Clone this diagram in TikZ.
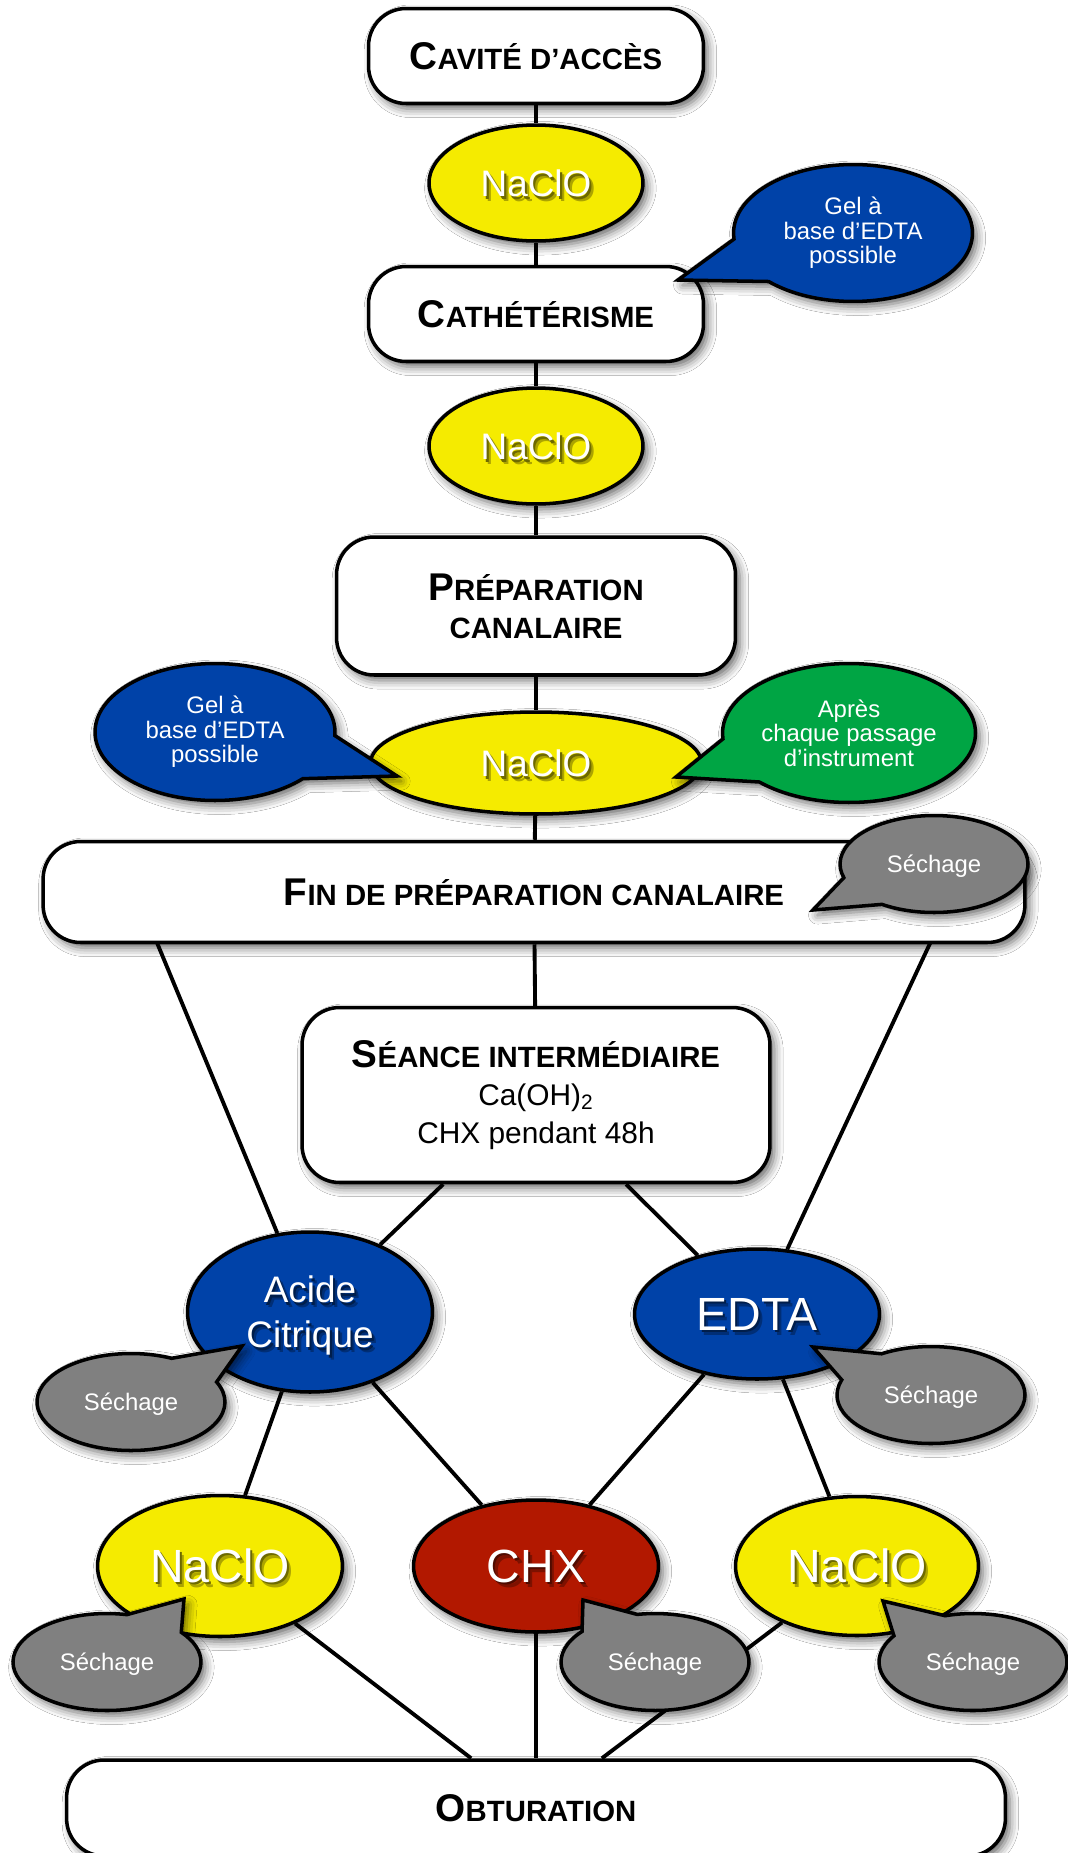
\documentclass[tikz,border=0pt]{standalone}
\usepackage{fontspec}
\setmainfont{Liberation Sans}
\usetikzlibrary{shapes.geometric,shapes.callouts,shadows.blur,backgrounds}
\definecolor{rinseyellow}{RGB}{245,235,0}
\definecolor{gelblue}{RGB}{0,66,168}
\definecolor{passgreen}{RGB}{0,165,68}
\definecolor{chxred}{RGB}{178,24,0}
\definecolor{drygray}{RGB}{128,128,128}

\newcommand\txtstack[1]{\begin{tabular}{@{}c@{}}#1\end{tabular}}
\newcommand\shadetext[2]{\leavevmode\raisebox{-0.12em}[\height][\depth]{%
  \rlap{\kern2.4pt\raisebox{-2.8pt}[0pt][0pt]{\color{#1!70!black}\txtstack{#2}}}%
  \rlap{\kern1.2pt\raisebox{-1.5pt}[0pt][0pt]{\color{#1!45!black}\txtstack{#2}}}%
  \txtstack{#2}}}
\newcommand\capsc[2]{{\fontsize{22}{22}\selectfont #1}#2}

\tikzset{
  softshadow/.style={blur shadow={shadow xshift=2.5pt,shadow yshift=-3pt,shadow blur radius=5pt,shadow opacity=60}},
  stagebox/.style={rectangle,rounded corners=0.75cm,draw=black,fill=white,line width=2pt,softshadow,
    font=\fontsize{16.7}{21.5}\selectfont\bfseries,align=center},
  rinse/.style={ellipse,draw=black,line width=2pt,softshadow,text=white,inner sep=2pt,
    font=\fontsize{21}{25.6}\selectfont},
  note/.style={ellipse callout,callout pointer arc=40,draw=black,line width=2pt,softshadow,text=white,
    align=center,inner sep=1pt,font=\fontsize{13.6}{14}\selectfont},
  link/.style={line width=2.2pt,draw=black}
}

\begin{document}
\begin{tikzpicture}[
  x=0.02cm,y=-0.02cm,
  bigtext/.style={font=\fontsize{26.5}{30}\selectfont},
  dry/.style={note,fill=drygray,minimum width=3.76cm,minimum height=1.94cm,text height=13pt,text depth=3pt}
]
  \useasboundingbox (0,0) rectangle (1068,1853);

  \node[stagebox,minimum width=6.7cm,minimum height=1.9cm] (cavite) at (536,56)
    {\capsc{C}{AVITÉ D’ACCÈS}};
  \node[rinse,fill=rinseyellow,minimum width=4.28cm,minimum height=2.32cm] (naclo1) at (536,183)
    {\shadetext{rinseyellow}{NaClO}};
  \node[stagebox,minimum width=6.7cm,minimum height=1.9cm] (cath) at (536,314)
    {\capsc{C}{ATHÉTÉRISME}};
  \node[rinse,fill=rinseyellow,minimum width=4.28cm,minimum height=2.32cm] (naclo2) at (536,446)
    {\shadetext{rinseyellow}{NaClO}};
  \node[stagebox,minimum width=7.98cm,minimum height=2.76cm] (prep) at (536,606)
    {\capsc{P}{RÉPARATION}\\CANALAIRE};
  \node[rinse,fill=rinseyellow,minimum width=6.62cm,minimum height=2.04cm] (naclo3) at (536,763)
    {\shadetext{rinseyellow}{NaClO}};
  \node[stagebox,minimum width=19.64cm,minimum height=2.02cm] (fin) at (534,892)
    {\capsc{F}{IN DE PRÉPARATION CANALAIRE}};
  \node[stagebox,minimum width=9.36cm,minimum height=3.5cm] (seance) at (536,1095)
    {\capsc{S}{ÉANCE INTERMÉDIAIRE}\\{\mdseries\fontsize{17}{21.5}\selectfont Ca(OH)\textsubscript{2}}\\
     {\mdseries\fontsize{17}{21.5}\selectfont CHX pendant 48h}};

  \node[rinse,fill=gelblue,minimum width=4.9cm,minimum height=3.2cm] (acide) at (310,1312)
    {\shadetext{gelblue}{Acide\\Citrique}};
  \node[rinse,bigtext,fill=gelblue,minimum width=4.9cm,minimum height=2.6cm] (edta) at (757,1314)
    {\shadetext{gelblue}{EDTA}};
  \node[rinse,bigtext,fill=rinseyellow,minimum width=4.9cm,minimum height=2.82cm] (nacloL) at (220,1566)
    {\shadetext{rinseyellow}{NaClO}};
  \node[rinse,bigtext,fill=chxred,minimum width=4.9cm,minimum height=2.64cm] (chx) at (536,1566)
    {\shadetext{chxred}{CHX}};
  \node[rinse,bigtext,fill=rinseyellow,minimum width=4.86cm,minimum height=2.78cm] (nacloR) at (857,1566)
    {\shadetext{rinseyellow}{NaClO}};
  \node[stagebox,minimum width=18.78cm,minimum height=1.92cm] (obtu) at (536,1808)
    {\capsc{O}{BTURATION}};

  \coordinate (gel1tip) at (678,280);
  \coordinate (gel2tip) at (397,776);
  \coordinate (apretip) at (676,777);
  \coordinate (finTRtip) at (813,910);
  \coordinate (acidetip) at (242,1346);
  \coordinate (edtatip) at (813,1347);
  \coordinate (nacloLtip) at (184,1599);
  \coordinate (chxtip) at (583,1600);
  \coordinate (nacloRtip) at (883,1601);
  \coordinate (finL) at (136,892);
  \coordinate (finR) at (954,892);

  \node[note,fill=gelblue,minimum width=4.78cm,minimum height=2.74cm,callout absolute pointer={(gel1tip)}]
    (gel1) at (853,233) {Gel à\\base d’EDTA\\possible};
  \node[note,fill=gelblue,minimum width=4.8cm,minimum height=2.74cm,callout absolute pointer={(gel2tip)}]
    (gel2) at (215,732) {Gel à\\base d’EDTA\\possible};
  \node[note,fill=passgreen,minimum width=5.04cm,minimum height=2.78cm,callout absolute pointer={(apretip)}]
    (apres) at (849,733) {Après\\chaque passage\\d’instrument};

  \node[dry,callout absolute pointer={(finTRtip)}] (dryfin) at (934,864) {Séchage};
  \node[dry,callout absolute pointer={(acidetip)}] (dryacide) at (131,1402) {Séchage};
  \node[dry,callout absolute pointer={(edtatip)}] (dryedta) at (931,1395) {Séchage};
  \node[dry,callout absolute pointer={(nacloLtip)}] (drynacloL) at (107,1662) {Séchage};
  \node[dry,callout absolute pointer={(chxtip)}] (drychx) at (655,1662) {Séchage};
  \node[dry,callout absolute pointer={(nacloRtip)}] (drynacloR) at (973,1662) {Séchage};

  \begin{scope}[on background layer]
    \fill[white] (0,0) rectangle (1068,1853);
    \foreach \from/\to in {cavite/naclo1,naclo1/cath,cath/naclo2,naclo2/prep,prep/naclo3,naclo3/fin,
      fin/seance,seance/acide,seance/edta,finL/acide,finR/edta,acide/nacloL,acide/chx,
      edta/chx,edta/nacloR,nacloL/obtu,chx/obtu,nacloR/obtu}{
      \draw[link] (\from) -- (\to);
    }
  \end{scope}
\end{tikzpicture}
\end{document}
